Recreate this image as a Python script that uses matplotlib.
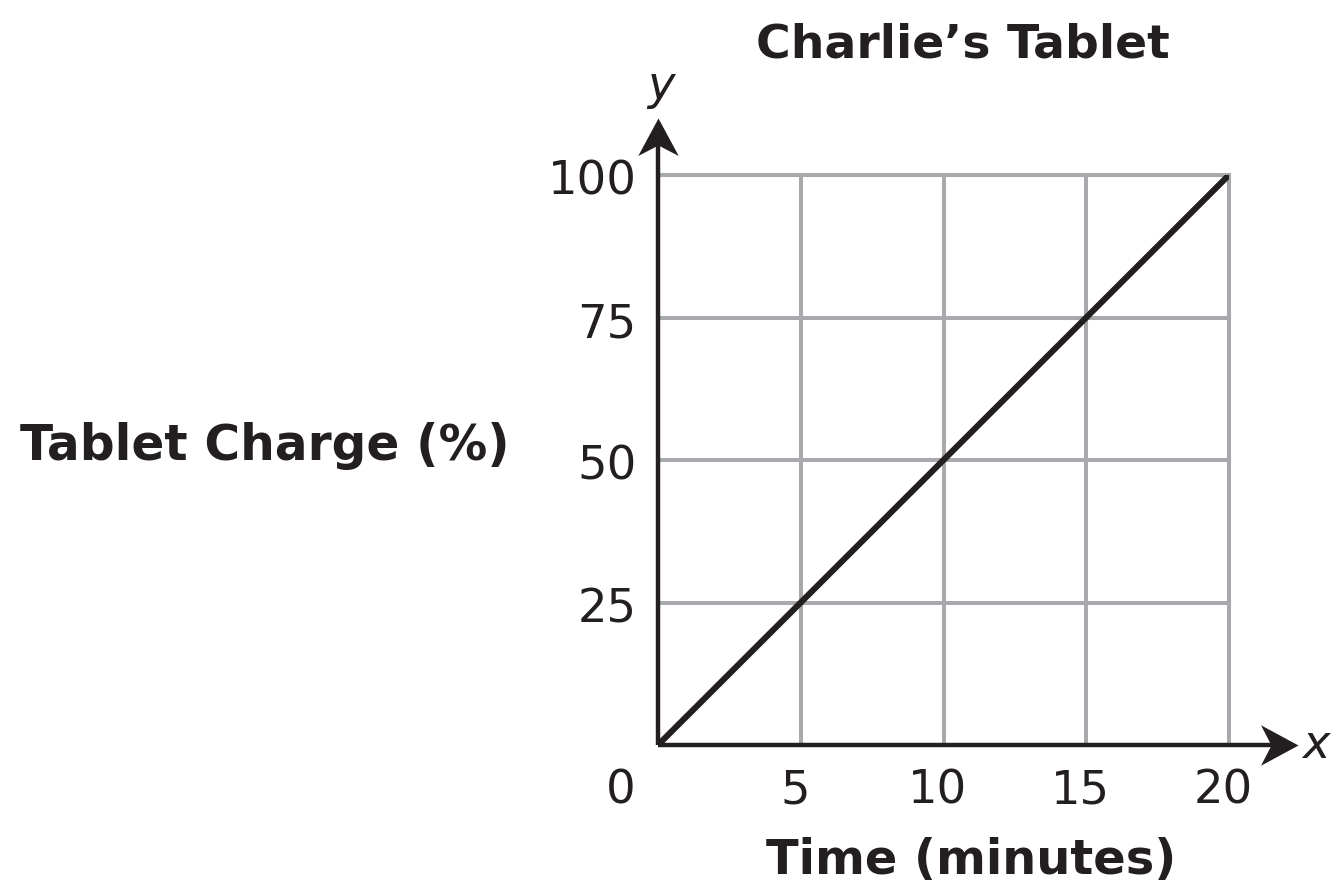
import matplotlib.pyplot as plt
from matplotlib.path import Path

# data
time_min = [0, 5, 10, 15, 20]
charge = [0, 25, 50, 75, 100]
x_ticks = [5, 10, 15, 20]
y_ticks = [25, 50, 75, 100]

W, H = 1339, 884
ink = '#231f20'
fig = plt.figure(figsize=(W / 100, H / 100), dpi=100)
ax = fig.add_axes([658 / W, 1 - 745 / H, 571 / W, 570 / H])
ax.set_xlim(0, 20)
ax.set_ylim(0, 100)

# grid
for xv in x_ticks:
    ax.axvline(xv, color='#a7a9ac', lw=2.9, zorder=1, clip_on=False)
for yv in y_ticks:
    ax.axhline(yv, color='#a7a9ac', lw=2.9, zorder=1, clip_on=False)

for s in ax.spines.values():
    s.set_visible(False)
ax.set_xticks([])
ax.set_yticks([])

# axes lines with stealth-like arrowheads
head_r = Path([(0, 0), (-1, 0.54), (-0.72, 0), (-1, -0.54), (0, 0)],
              [Path.MOVETO, Path.LINETO, Path.LINETO, Path.LINETO, Path.CLOSEPOLY])
head_u = Path([(0, 0), (0.54, -1), (0, -0.72), (-0.54, -1), (0, 0)],
              [Path.MOVETO, Path.LINETO, Path.LINETO, Path.LINETO, Path.CLOSEPOLY])
ax.plot([0, 22.0], [0, 0], color=ink, lw=3.2, clip_on=False, zorder=4,
        solid_capstyle='butt')
ax.plot([0, 0], [0, 108], color=ink, lw=3.2, clip_on=False, zorder=4,
        solid_capstyle='butt')
ax.plot([22.42], [0], marker=head_r, markersize=54, color=ink, mew=0,
        clip_on=False, zorder=5)
ax.plot([0], [110.0], marker=head_u, markersize=54, color=ink, mew=0,
        clip_on=False, zorder=5)

# data line
ax.plot(time_min, charge, color=ink, lw=4.4, solid_capstyle='butt', zorder=3)

fs = 33.5
for xv in x_ticks:
    ax.text(xv - 0.2, -10.2, str(xv), ha='center', va='baseline', fontsize=fs, color=ink)
for yv in y_ticks:
    ax.text(-0.75, yv - 3.5, str(yv), ha='right', va='baseline', fontsize=fs, color=ink)
ax.text(-1.3, -10.2, '0', ha='center', va='baseline', fontsize=fs, color=ink)

ax.text(0.1, 111.5, 'y', ha='center', va='bottom', fontsize=fs, style='italic', color=ink)
ax.text(22.55, 0, 'x', ha='left', va='center', fontsize=fs, style='italic', color=ink)

fig.text(963 / W, 1 - 57 / H, 'Charlie\u2019s Tablet', ha='center', va='baseline',
         fontsize=34, fontweight='bold', color=ink)
fig.text(265 / W, 1 - 460 / H, 'Tablet Charge (%)', ha='center', va='baseline',
         fontsize=35, fontweight='bold', color=ink)
fig.text(971 / W, 1 - 874 / H, 'Time (minutes)', ha='center', va='baseline',
         fontsize=34.5, fontweight='bold', color=ink)

fig.savefig('out.png', dpi=100)
